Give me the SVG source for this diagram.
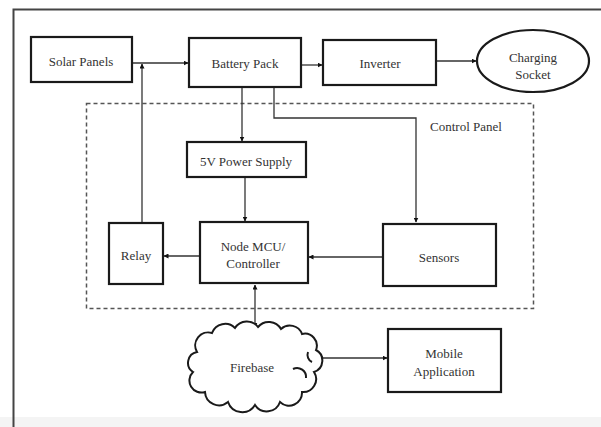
<svg xmlns="http://www.w3.org/2000/svg" width="601" height="427" viewBox="0 0 601 427">
<style>
.box{fill:#fff;stroke:#1a1a1a;stroke-width:2.2}
.t{font-family:"Liberation Serif","Times New Roman",serif;font-size:13px;fill:#333;text-anchor:middle;dominant-baseline:central}
.ln{fill:none;stroke:#333;stroke-width:1.3}
</style>
<defs>
<marker id="ah" viewBox="0 0 10 10" refX="9" refY="5" markerWidth="5" markerHeight="5" orient="auto-start-reverse" markerUnits="userSpaceOnUse">
<path d="M0,0 L10,5 L0,10 z" fill="#111"/>
</marker>
</defs>
<rect x="0" y="0" width="601" height="427" fill="#fff"/>
<rect x="0" y="417" width="601" height="10" fill="#f4f4f4"/>
<rect x="13.5" y="9.5" width="600" height="430" fill="none" stroke="#444" stroke-width="2"/>
<rect id="control-panel" x="86.5" y="103.5" width="447" height="205" fill="none" stroke="#555" stroke-width="1.5" stroke-dasharray="4 3"/>
<text class="t" x="466" y="126">Control Panel</text>

<g id="connectors">
<line class="ln" x1="132" y1="63" x2="188" y2="63" marker-end="url(#ah)"/>
<line class="ln" x1="142" y1="223" x2="142" y2="64" marker-end="url(#ah)"/>
<line class="ln" x1="301" y1="65" x2="322" y2="65" marker-end="url(#ah)"/>
<line class="ln" x1="436" y1="61" x2="476" y2="61" marker-end="url(#ah)"/>
<line class="ln" x1="242" y1="87" x2="242" y2="141" marker-end="url(#ah)"/>
<polyline class="ln" points="274,87 274,118 416,118 416,222" marker-end="url(#ah)"/>
<line class="ln" x1="245" y1="177" x2="245" y2="221" marker-end="url(#ah)"/>
<line class="ln" x1="200" y1="256" x2="164" y2="256" marker-end="url(#ah)"/>
<line class="ln" x1="383" y1="257" x2="309" y2="257" marker-end="url(#ah)"/>
<line class="ln" x1="255" y1="285" x2="255" y2="327" marker-start="url(#ah)" marker-end="url(#ah)"/>
<line class="ln" x1="318" y1="358" x2="387" y2="358" marker-start="url(#ah)" marker-end="url(#ah)"/>
</g>

<g id="solar-panels"><rect class="box" x="31" y="37" width="101" height="45"/><text class="t" x="81" y="61">Solar Panels</text></g>
<g id="battery-pack"><rect class="box" x="189" y="38" width="112" height="49"/><text class="t" x="245" y="63">Battery Pack</text></g>
<g id="inverter"><rect class="box" x="323" y="40" width="113" height="45"/><text class="t" x="380" y="63">Inverter</text></g>
<g id="charging-socket"><ellipse cx="533" cy="61" rx="56" ry="31" fill="#fff" stroke="#1a1a1a" stroke-width="2.2"/><text class="t" x="533" y="57">Charging</text><text class="t" x="533" y="74">Socket</text></g>
<g id="power-supply"><rect class="box" x="187" y="142" width="119" height="35"/><text class="t" x="246" y="161">5V Power Supply</text></g>
<g id="relay"><rect class="box" x="109" y="223" width="54" height="61"/><text class="t" x="136" y="255">Relay</text></g>
<g id="node-mcu"><rect class="box" x="200" y="222" width="108" height="61"/><text class="t" x="253" y="246">Node MCU/</text><text class="t" x="253" y="263">Controller</text></g>
<g id="sensors"><rect class="box" x="383" y="224" width="113" height="62"/><text class="t" x="439" y="257">Sensors</text></g>
<g id="firebase">
<path d="M197,352 A13,13 0 0 1 212,333 A14,14 0 0 1 235,328 A14,14 0 0 1 258,327 A14,14 0 0 1 281,329 A13,13 0 0 1 302,334 A12,12 0 0 1 316,350 A12,12 0 0 1 314,372 A13,13 0 0 1 302,392 A13,13 0 0 1 280,402 A14,14 0 0 1 255,405 A15,15 0 0 1 228,402 A14,14 0 0 1 205,392 A12,12 0 0 1 193,372 A11,11 0 0 1 197,352 Z" fill="#fff" stroke="#1a1a1a" stroke-width="2"/>
<path d="M293,369 A9,9 0 0 1 306,378" fill="none" stroke="#1a1a1a" stroke-width="2"/>
<path d="M308,352 A8,8 0 0 0 312,362" fill="none" stroke="#1a1a1a" stroke-width="2"/>
<text class="t" x="252" y="367">Firebase</text>
</g>
<g id="mobile-application"><rect class="box" x="388" y="329" width="113" height="63"/><text class="t" x="444" y="353">Mobile</text><text class="t" x="444" y="371">Application</text></g>
</svg>
